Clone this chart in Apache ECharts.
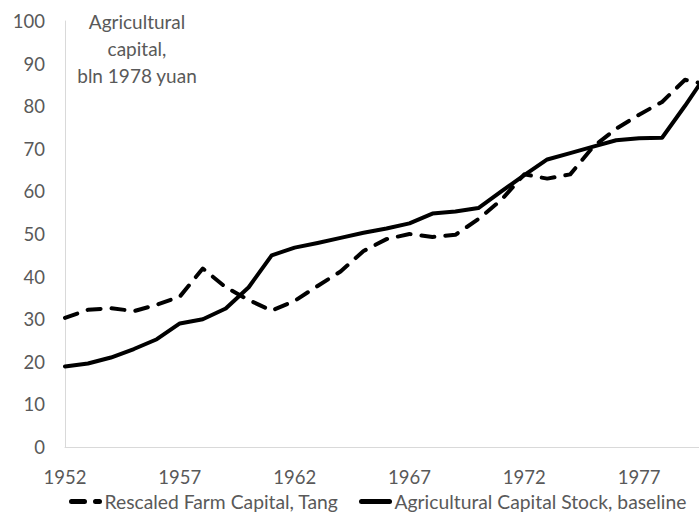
<!DOCTYPE html>
<html>
<head>
<meta charset="utf-8">
<script src="https://cdn.jsdelivr.net/npm/echarts@6/dist/echarts.min.js"></script>
<style>
  html, body { margin: 0; padding: 0; background: #fff; }
  #chart { width: 699px; height: 514px; }
</style>
</head>
<body>
<div id="chart"></div>
<script>
const years = []
for (let y = 1952; y <= 1980; y++) years.push(String(y))

// Rescaled Farm Capital, Tang (dashed)
const tangValues = [
  30.3, 32.2, 32.6, 31.9, 33.4, 35.3, 41.9, 37.5, 34.5, 32.0,
  34.3, 37.8, 41.2, 46.0, 48.8, 50.0, 49.3, 49.8, 53.5, 58.0,
  64.0, 63.0, 64.0, 70.5, 74.7, 78.0, 81.0, 86.2, 85.0
]

// Agricultural Capital Stock, baseline (solid)
const baselineValues = [
  18.9, 19.6, 21.0, 23.0, 25.3, 29.0, 30.0, 32.5, 37.5, 45.0,
  46.8, 47.9, 49.1, 50.3, 51.3, 52.5, 54.8, 55.3, 56.1, 60.0,
  63.8, 67.5, 69.0, 70.5, 72.0, 72.5, 72.6, 80.1, 88.0
]

const seriesNames = ['Rescaled Farm Capital, Tang', 'Agricultural Capital Stock, baseline']
const annotation = 'Agricultural\ncapital,\nbln 1978 yuan'

const font = 'Lato'
const grey = '#595959'

const chart = echarts.init(document.getElementById('chart'), null, { renderer: 'svg' })

const legendBase = {
  top: 487,
  padding: 5,
  itemWidth: 28,
  itemHeight: 14,
  itemStyle: { color: 'rgba(0,0,0,0)', borderWidth: 0 },
  lineStyle: { width: 5 },
  textStyle: { color: grey, fontSize: 19.3, lineHeight: 16, fontFamily: font }
}

chart.setOption({
  backgroundColor: '#ffffff',
  animation: false,
  textStyle: { fontFamily: font },
  grid: { left: 65, top: 21, width: 643, height: 426, outerBoundsMode: 'none' },
  xAxis: {
    type: 'category',
    data: years,
    boundaryGap: false,
    axisLine: { lineStyle: { color: '#d9d9d9', width: 1 } },
    axisTick: { show: false },
    axisLabel: { interval: 4, color: grey, fontSize: 18.5, lineHeight: 16, margin: 22, fontFamily: font }
  },
  yAxis: {
    type: 'value',
    min: 0,
    max: 100,
    interval: 10,
    axisLine: { show: true, lineStyle: { color: '#d9d9d9', width: 1 } },
    axisTick: { show: false },
    splitLine: { show: false },
    axisLabel: { color: grey, fontSize: 18.5, margin: 20, fontFamily: font }
  },
  legend: [
    Object.assign({ data: [seriesNames[0]], left: 64 }, legendBase),
    Object.assign({ data: [seriesNames[1]], left: 354 }, legendBase)
  ],
  graphic: [
    {
      type: 'text',
      x: 137,
      y: 8,
      style: {
        text: annotation,
        fill: grey,
        font: '19px ' + font,
        lineHeight: 27,
        align: 'center'
      }
    }
  ],
  series: [
    {
      name: seriesNames[0],
      type: 'line',
      data: tangValues,
      symbol: 'none',
      lineStyle: { color: '#000', width: 4, type: [13, 11], cap: 'round', join: 'round' },
      itemStyle: { color: '#000' }
    },
    {
      name: seriesNames[1],
      type: 'line',
      data: baselineValues,
      symbol: 'none',
      lineStyle: { color: '#000', width: 4, type: 'solid', cap: 'round', join: 'round' },
      itemStyle: { color: '#000' }
    }
  ]
})
</script>
</body>
</html>
